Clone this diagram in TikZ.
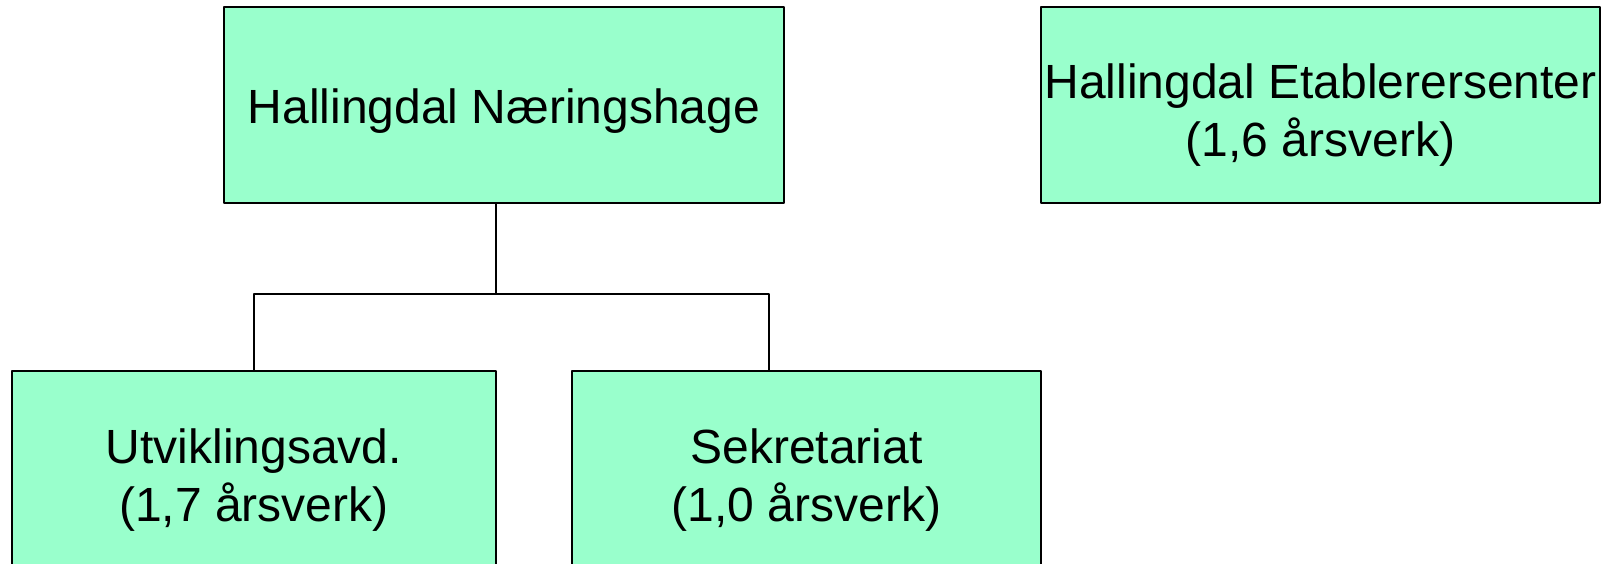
\documentclass[tikz,border=0pt]{standalone}
\usepackage{fontspec}
\setmainfont{Liberation Sans}
\usepackage{tikz}
\definecolor{mint}{RGB}{153,255,204}
\newcommand\boxtext[2][-5pt]{\raisebox{#1}[\height][\depth]{\begin{tabular}{@{}c@{}}#2\end{tabular}}}

\begin{document}
\begin{tikzpicture}[line cap=round,line join=round,x=1pt,y=1pt,
  unit/.style={draw=black,line width=1.5pt,fill=mint,inner sep=0pt,
    font=\fontsize{48}{57.6}\selectfont}]
\useasboundingbox (0,0) rectangle (1605,564);
\clip (0,0) rectangle (1605,564);
\node [unit,minimum width=560,minimum height=196] (hage) at (504,459) {\boxtext[-7pt]{Hallingdal Næringshage}};
\node [unit,minimum width=559,minimum height=196] (etabl) at (1320.5,459) {\boxtext[-11pt]{Hallingdal Etablerersenter\\(1,6 årsverk)}};
\node [unit,minimum width=484,minimum height=196] (utv) at (254,95) {\boxtext[-12pt]{Utviklingsavd.\\ (1,7 årsverk)}};
\node [unit,minimum width=469,minimum height=196] (sekr) at (806.5,95) {\boxtext[-12pt]{Sekretariat\\ (1,0 årsverk)}};
\coordinate (bus) at (496,270);
\coordinate (busL) at (254,270);
\coordinate (busR) at (769,270);
\draw [line width=1.5pt] (bus |- hage.south) -- (bus);
\draw [line width=1.5pt] (utv.north) -- (busL) -- (busR) -- (busR |- sekr.north);
\end{tikzpicture}
\end{document}
